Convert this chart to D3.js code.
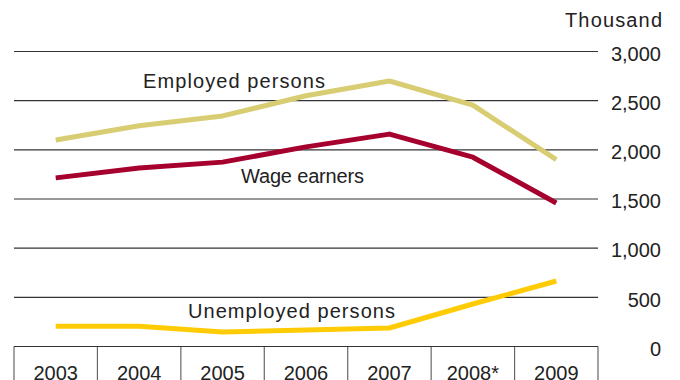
<!DOCTYPE html>
<html>
<head>
<meta charset="utf-8">
<script src="https://cdn.jsdelivr.net/npm/d3@7"></script>
<style>
  body { margin: 0; background: #fff; }
  svg text { font-family: "Liberation Sans", Arial, sans-serif; fill: #222; }
</style>
</head>
<body>
<div id="chart"></div>
<script>
// data (thousand persons)
const years = ["2003", "2004", "2005", "2006", "2007", "2008*", "2009"];
const employed = [2100, 2245, 2345, 2550, 2700, 2455, 1900];
const wageEarners = [1715, 1815, 1875, 2030, 2160, 1925, 1460];
const unemployed = [205, 205, 148, 168, 188, 432, 666];
const yTicks = [0, 500, 1000, 1500, 2000, 2500, 3000];

const width = 680, height = 380;
const margin = {left: 14, right: 82, top: 51.5, bottom: 33.5};

let svg = d3.select("#chart").append("svg")
    .attr("width", width)
    .attr("height", height);

let xScale = d3.scaleBand()
    .domain(years)
    .range([margin.left, width - margin.right]);

let yScale = d3.scaleLinear()
    .domain([0, 3000])
    .range([height - margin.bottom, margin.top]);

// gridlines
svg.append("g")
    .selectAll("line")
    .data(yTicks.filter(d => d > 0))
    .enter().append("line")
    .attr("x1", margin.left)
    .attr("x2", width - margin.right)
    .attr("y1", d => yScale(d))
    .attr("y2", d => yScale(d))
    .attr("stroke", "#333")
    .attr("stroke-width", 1.2);

// right value labels
svg.append("g")
    .selectAll("text")
    .data(yTicks)
    .enter().append("text")
    .attr("x", 661)
    .attr("y", d => yScale(d) + 2)
    .attr("dy", "0.36em")
    .attr("text-anchor", "end")
    .style("font-size", "20px")
    .text(d => d3.format(",")(d));

svg.append("text")
    .attr("x", 662)
    .attr("y", 27)
    .attr("text-anchor", "end")
    .attr("textLength", 97)
    .attr("lengthAdjust", "spacing")
    .style("font-size", "20px")
    .text("Thousand");

// category boxes along the bottom
let xAxisGroup = svg.append("g");
let bounds = years.map(d => xScale(d)).concat([xScale.range()[1]]);
xAxisGroup.selectAll(".sep")
    .data(bounds)
    .enter().append("line")
    .attr("class", "sep")
    .attr("x1", d => d)
    .attr("x2", d => d)
    .attr("y1", yScale(0))
    .attr("y2", height)
    .attr("stroke", "#666")
    .attr("stroke-width", 1.2);

xAxisGroup.append("line")
    .attr("x1", margin.left)
    .attr("x2", width - margin.right)
    .attr("y1", yScale(0))
    .attr("y2", yScale(0))
    .attr("stroke", "#333")
    .attr("stroke-width", 1.2);

xAxisGroup.selectAll(".yr")
    .data(years)
    .enter().append("text")
    .attr("class", "yr")
    .attr("x", d => xScale(d) + xScale.bandwidth() / 2)
    .attr("y", 380)
    .attr("text-anchor", "middle")
    .style("font-size", "20px")
    .text(d => d);

// lines
let line = d3.line()
    .x((d, i) => xScale(years[i]) + xScale.bandwidth() / 2)
    .y(d => yScale(d));

let series = [
    {values: employed, color: "#d8cd72"},
    {values: wageEarners, color: "#a6002e"},
    {values: unemployed, color: "#ffcb05"}
];

svg.append("g")
    .selectAll("path")
    .data(series)
    .enter().append("path")
    .attr("d", d => line(d.values))
    .attr("fill", "none")
    .attr("stroke", d => d.color)
    .attr("stroke-width", 5)
    .attr("stroke-linejoin", "round");

// series labels
let labels = [
    {text: "Employed persons", x: 143, y: 88, w: 182},
    {text: "Wage earners", x: 241, y: 183, w: 123},
    {text: "Unemployed persons", x: 188, y: 318, w: 207}
];

svg.append("g")
    .selectAll("text")
    .data(labels)
    .enter().append("text")
    .attr("x", d => d.x)
    .attr("y", d => d.y)
    .attr("textLength", d => d.w)
    .attr("lengthAdjust", "spacing")
    .style("font-size", "20px")
    .text(d => d.text);
</script>
</body>
</html>
